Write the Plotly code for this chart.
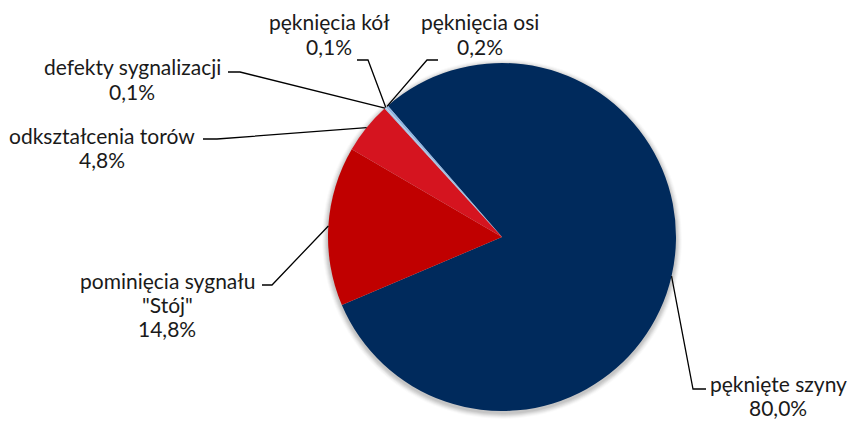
import math
import plotly.graph_objects as go

# ---- data ----
categories = ["pęknięte szyny", "pominięcia sygnału<br>\"Stój\"", "odkształcenia torów",
              "defekty sygnalizacji", "pęknięcia kół", "pęknięcia osi"]
values = [80.0, 14.8, 4.8, 0.1, 0.1, 0.2]

# ---- style / layout ----
W, H = 850, 421
colors = ["#002A5C", "#C00000", "#D5141F", "#9BBBE3", "#C6D8F0", "#8DB4E2"]
CX, CY, R = 502, 237, 174          # pie centre / radius in pixels
ROTATION = 319                     # start angle of first slice (clockwise from top)
FONT = dict(family="Lato", size=21, color="#1a1a1a")
LINE_GAP = 24

# label centre (px) and leader line elbow / end (px) for each slice
label_pos = [(778, 395), (167, 304), (102, 148), (132, 79), (329, 34), (480, 34)]
elbow_pos = [(693, 389), (272, 285), (217, 139), (240, 72), (368, 60), (427, 60)]
end_pos = [(706, 389), (262, 285), (203, 139), (228, 72), (357, 60), (438, 60)]


def px(x):
    return x / W


def py(y):
    return 1 - y / H


fig = go.Figure()
fig.add_trace(go.Pie(
    labels=categories, values=values, sort=False, direction="clockwise",
    rotation=ROTATION, textinfo="none", hoverinfo="label+percent",
    marker=dict(colors=colors, line=dict(width=0)),
    domain=dict(x=[px(CX - R), px(CX + R)], y=[py(CY + R), py(CY - R)]),
    showlegend=False,
))

shapes = []
# soft shadow under the pie
for i, op in enumerate([0.05, 0.05, 0.05, 0.04, 0.03, 0.02]):
    rr = R + 1 + i
    oy = 2
    shapes.append(dict(type="circle", xref="paper", yref="paper", layer="below",
                       x0=px(CX - rr), x1=px(CX + rr), y0=py(CY + oy + rr), y1=py(CY + oy - rr),
                       fillcolor=f"rgba(0,0,0,{op})", line=dict(width=0)))

total = sum(values)
cum = 0.0
annotations = []
for i, (cat, v) in enumerate(zip(categories, values)):
    mid = math.radians(ROTATION + 360 * (cum + v / 2) / total)
    cum += v
    ax, ay = CX + R * math.sin(mid), CY - R * math.cos(mid)
    ex, ey = elbow_pos[i]
    tx, ty = end_pos[i]
    path = f"M {px(ax)},{py(ay)} L {px(ex)},{py(ey)} L {px(tx)},{py(ty)}"
    shapes.append(dict(type="path", xref="paper", yref="paper", path=path,
                       line=dict(color="black", width=1.3)))
    lines = cat.split("<br>") + [f"{v:.1f}%".replace(".", ",")]
    lx, ly = label_pos[i]
    n = len(lines)
    for j, t in enumerate(lines):
        yy = ly + (j - (n - 1) / 2) * LINE_GAP
        annotations.append(dict(x=px(lx), y=py(yy), xref="paper", yref="paper",
                                text=t, showarrow=False, xanchor="center", yanchor="middle",
                                align="center", font=FONT, borderpad=0))

fig.update_layout(
    width=W, height=H, margin=dict(l=0, r=0, t=0, b=0),
    paper_bgcolor="white", plot_bgcolor="white",
    shapes=shapes, annotations=annotations,
)

fig.write_html("out.html", config={"displayModeBar": False},
               post_script="document.body.style.margin='0';document.body.style.padding='0';")
